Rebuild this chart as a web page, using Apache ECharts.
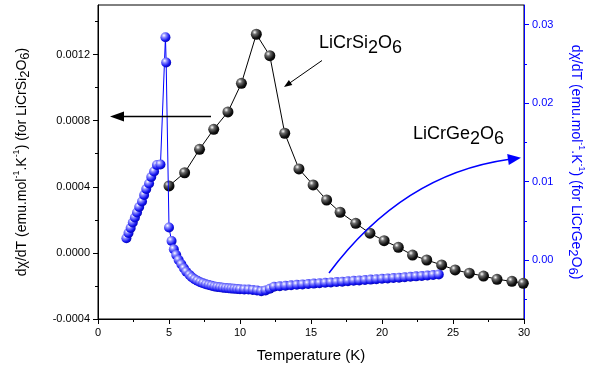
<!DOCTYPE html>
<html>
<head>
<meta charset="utf-8">
<script src="https://cdn.jsdelivr.net/npm/echarts@6/dist/echarts.min.js"></script>
<style>
html, body { margin: 0; padding: 0; background: #fff; }
#chart { width: 601px; height: 375px; }
</style>
</head>
<body>
<div id="chart"></div>
<script>
// LiCrSi2O6 : left axis
var siT = [5.0, 6.1, 7.15, 8.15, 9.15, 10.1, 11.15, 12.1, 13.15, 14.15, 15.15, 16.1, 17.05,
	18.15, 19.15, 20.15, 21.15, 22.15, 23.15, 24.2, 25.15, 26.15, 27.15, 28.1, 29.15, 29.95];
var siDchi = [0.000405, 0.000485, 0.000627, 0.000748, 0.000853, 0.001026, 0.001323, 0.001193,
	0.000724, 0.000508, 0.000411, 0.00032, 0.000246, 0.000179, 0.000119, 0.000074, 0.000034,
	-0.000013, -0.000043, -0.000073, -0.000103, -0.000123, -0.00014, -0.00016, -0.000172, -0.000184];

// LiCrGe2O6 : right axis
var geT = [2.0, 2.15, 2.3, 2.45, 2.6, 2.75, 2.9, 3.1, 3.25, 3.4, 3.6, 3.75, 3.95, 4.15, 4.4,
	4.75, 4.8,
	5.0, 5.18, 5.34, 5.51, 5.68, 5.87, 6.05, 6.22, 6.45, 6.61,
	6.8, 7.0, 7.2, 7.4, 7.6, 7.8, 8.0, 8.2, 8.4, 8.6, 8.8, 9.0, 9.2, 9.4, 9.6, 9.8, 10.0,
	10.3, 10.6, 10.9, 11.2, 11.5, 11.8, 12.1,
	12.4, 12.8, 13.2, 13.6, 14.0, 14.4, 14.8, 15.2, 15.6, 16.0, 16.4, 16.8, 17.2, 17.6, 18.0,
	18.4, 18.8, 19.2, 19.6, 20.0, 20.4, 20.8, 21.2, 21.6, 22.0, 22.4, 22.8, 23.2, 23.6, 24.0];
var geDchi = [0.00278, 0.00346, 0.00409, 0.00479, 0.00543, 0.00607, 0.00677, 0.00747, 0.0083,
	0.00906, 0.00976, 0.01059, 0.01129, 0.01212, 0.01218,
	0.02839, 0.02518,
	0.00416, 0.00244, 0.00138, 0.00065, 0.00002, -0.00053, -0.00104, -0.00147, -0.0019, -0.00219,
	-0.00243, -0.00263, -0.00281, -0.00295, -0.00308, -0.00318, -0.00327, -0.00335, -0.00341,
	-0.00346, -0.00351, -0.00355, -0.00359, -0.00363, -0.00365, -0.00368, -0.0037,
	-0.00373, -0.00375, -0.00379, -0.00386, -0.00395, -0.00386, -0.00365,
	-0.00339, -0.00332, -0.00326, -0.00321, -0.00314, -0.00309, -0.00304, -0.00299, -0.00294,
	-0.00289, -0.00284, -0.00279, -0.00274, -0.00268, -0.00263, -0.00258, -0.00253, -0.00248,
	-0.00243, -0.00238, -0.00233, -0.00228, -0.00223, -0.00218, -0.00212, -0.00207, -0.00202,
	-0.00196, -0.00189, -0.00183];

// tick values
var leftTicks = [-0.0004, 0, 0.0004, 0.0008, 0.0012];
var leftMinor = [-0.0002, 0.0002, 0.0006, 0.001, 0.0014];
var rightTicks = [0, 0.01, 0.02, 0.03];
var rightMinor = [-0.005, 0.005, 0.015, 0.025];

var FONT = 'Liberation Sans, Arial, sans-serif';
var BLUE = '#0000ff';

function zip(a, b) {
	var out = [];
	for (var i = 0; i < a.length; i++) {
		out.push([a[i], b[i]]);
	}
	return out;
}

function ball(c1, c2, c3) {
	return {
		type : 'radial', x : 0.35, y : 0.32, r : 0.75,
		colorStops : [ { offset : 0, color : '#ffffff' }, { offset : 0.28, color : c1 },
			{ offset : 0.7, color : c2 }, { offset : 1, color : c3 } ]
	};
}

function richName(color) {
	return {
		t : { fontFamily : FONT, fontSize : 14, lineHeight : 20, color : color },
		sup : { fontFamily : FONT, fontSize : 9, lineHeight : 10, verticalAlign : 'top', color : color },
		sub : { fontFamily : FONT, fontSize : 13, lineHeight : 13, verticalAlign : 'bottom', color : color }
	};
}

function richNote(color) {
	return {
		t : { fontFamily : FONT, fontSize : 18, lineHeight : 28, color : color },
		sub : { fontFamily : FONT, fontSize : 18, lineHeight : 18, verticalAlign : 'bottom', color : color }
	};
}

// bezier for the blue arrow
var p0 = [329, 273], cp = [402.5, 174.5], p2 = [508, 159.5];

var option = {
	animation : false,
	backgroundColor : '#fff',
	grid : { left : 98, right : 77, top : 5, bottom : 56, show : true, borderColor : '#000', borderWidth : 1,
		backgroundColor : 'transparent' },
	xAxis : [ {
		type : 'value', min : 0, max : 30, interval : 5,
		name : 'Temperature (K)', nameLocation : 'middle', nameGap : 29,
		nameTextStyle : { fontFamily : FONT, fontSize : 15, color : '#000' },
		axisLine : { onZero : false, lineStyle : { color : '#000', width : 1 } },
		axisTick : { length : 5, lineStyle : { color : '#000' } },
		minorTick : { show : true, splitNumber : 2, length : 3, lineStyle : { color : '#000' } },
		axisLabel : { fontFamily : FONT, fontSize : 11, color : '#000', margin : 8 },
		splitLine : { show : false }
	} ],
	yAxis : [ {
		type : 'value', min : -0.0004, max : 0.0015, position : 'left',
		name : '{t|dχ/dT (emu.mol}{sup|-1}{t|.K}{sup|-1}{t|) (for LiCrSi}{sub|2}{t|O}{sub|6}{t|)}',
		nameLocation : 'middle', nameRotate : 90, nameGap : 66,
		nameTextStyle : { fontFamily : FONT, fontSize : 14, color : '#000', rich : richName('#000') },
		axisLine : { show : true, onZero : false, lineStyle : { color : '#000', width : 1 } },
		axisTick : { length : 5, customValues : leftTicks, lineStyle : { color : '#000' } },
		axisLabel : {
			customValues : leftTicks, fontFamily : FONT, fontSize : 11, color : '#000', margin : 8,
			formatter : function(v) { return v.toFixed(4); }
		},
		splitLine : { show : false }
	}, {
		type : 'value', min : -0.0004, max : 0.0015, position : 'left',
		axisLine : { show : false, onZero : false },
		axisTick : { show : true, length : 3, customValues : leftMinor, lineStyle : { color : '#000' } },
		axisLabel : { show : false }, splitLine : { show : false }
	}, {
		type : 'value', min : -0.0075, max : 0.0325, position : 'right',
		name : '{t|dχ/dT (emu.mol}{sup|-1}{t|.K}{sup|-1}{t|) (for LiCrGe}{sub|2}{t|O}{sub|6}{t|)}',
		nameLocation : 'middle', nameRotate : -90, nameGap : 42,
		nameTextStyle : { fontFamily : FONT, fontSize : 14, color : BLUE, rich : richName(BLUE) },
		axisLine : { show : true, onZero : false, lineStyle : { color : BLUE, width : 1 } },
		axisTick : { length : 5, customValues : rightTicks, lineStyle : { color : BLUE } },
		axisLabel : {
			customValues : rightTicks, fontFamily : FONT, fontSize : 11, color : BLUE, margin : 8,
			formatter : function(v) { return v.toFixed(2); }
		},
		splitLine : { show : false }
	}, {
		type : 'value', min : -0.0075, max : 0.0325, position : 'right',
		axisLine : { show : false, onZero : false },
		axisTick : { show : true, length : 3, customValues : rightMinor, lineStyle : { color : BLUE } },
		axisLabel : { show : false }, splitLine : { show : false }
	} ],
	series : [ {
		name : 'LiCrSi2O6', type : 'line', xAxisIndex : 0, yAxisIndex : 0,
		data : zip(siT, siDchi),
		symbol : 'circle', symbolSize : 11,
		itemStyle : { color : ball('#6a6a6a', '#121212', '#000000') },
		lineStyle : { color : '#000', width : 1 },
		z : 2
	}, {
		name : 'LiCrGe2O6', type : 'line', xAxisIndex : 0, yAxisIndex : 2,
		data : zip(geT, geDchi),
		symbol : 'circle', symbolSize : 10,
		itemStyle : { color : ball('#8c8cff', '#1414f0', '#0000a8') },
		lineStyle : { color : BLUE, width : 1 },
		z : 3
	} ],
	graphic : [
		// left pointing arrow
		{ type : 'line', shape : { x1 : 211, y1 : 116.5, x2 : 122, y2 : 116.5 },
			style : { stroke : '#000', lineWidth : 1.5 }, z : 10 },
		{ type : 'polygon', shape : { points : [ [ 110, 116.5 ], [ 124, 111.5 ], [ 124, 121.5 ] ] },
			style : { fill : '#000' }, z : 10 },
		// LiCrSi2O6 pointer
		{ type : 'line', shape : { x1 : 322, y1 : 60.5, x2 : 289, y2 : 83.5 },
			style : { stroke : '#000', lineWidth : 1 }, z : 10 },
		{ type : 'polygon', shape : { points : [ [ 284, 87 ], [ 292.3, 84.9 ], [ 288.9, 79.9 ] ] },
			style : { fill : '#000' }, z : 10 },
		// blue curved arrow
		{ type : 'bezierCurve',
			shape : { x1 : p0[0], y1 : p0[1], cpx1 : cp[0], cpy1 : cp[1], x2 : p2[0], y2 : p2[1] },
			style : { stroke : BLUE, lineWidth : 1.5, fill : null }, z : 10 },
		{ type : 'polygon', shape : { points : [ [ 521, 157.7 ], [ 508.8, 164.9 ], [ 507.2, 154.1 ] ] },
			style : { fill : BLUE }, z : 10 },
		// labels
		{ type : 'text', x : 319, y : 29, z : 10,
			style : { text : '{t|LiCrSi}{sub|2}{t|O}{sub|6}', rich : richNote('#000') } },
		{ type : 'text', x : 413, y : 120, z : 10,
			style : { text : '{t|LiCrGe}{sub|2}{t|O}{sub|6}', rich : richNote(BLUE) } }
	]
};

var chart = echarts.init(document.getElementById('chart'));
chart.setOption(option);
</script>
</body>
</html>
